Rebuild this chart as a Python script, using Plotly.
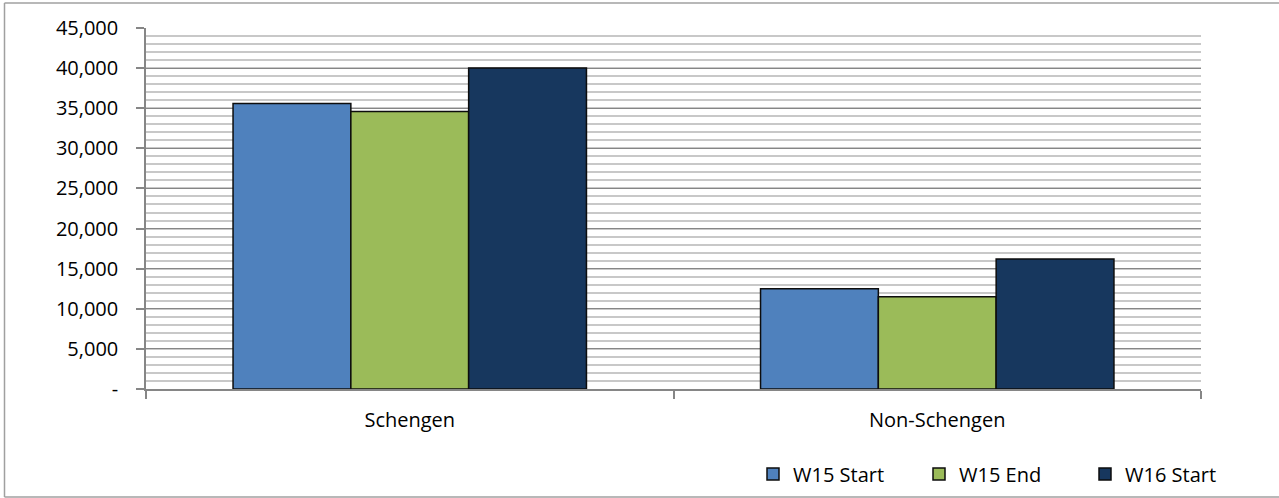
import plotly.graph_objects as go

categories = ["Schengen", "Non-Schengen"]
series_names = ["W15 Start", "W15 End", "W16 Start"]
w15_start = [35600, 12500]
w15_end = [34600, 11500]
w16_start = [40000, 16200]
series_values = [w15_start, w15_end, w16_start]
colors = ["#4F81BD", "#9BBB59", "#17375E"]

y_tick_vals = [0, 5000, 10000, 15000, 20000, 25000, 30000, 35000, 40000, 45000]
y_tick_text = ["-", "5,000", "10,000", "15,000", "20,000", "25,000", "30,000", "35,000", "40,000", "45,000"]

W, H = 1279, 498
L, R, T, B = 146, W - 1201, 28, H - 389
pw, ph = W - L - R, H - T - B

def px_x(x):
    return (x - L) / pw

def px_y(y):
    return (H - B - y) / ph

FONT = "Open Sans"
FS = 20

fig = go.Figure()
for name, vals, c in zip(series_names, series_values, colors):
    fig.add_trace(go.Bar(
        x=categories, y=vals, name=name,
        marker=dict(color=c, line=dict(color="#0d0d0d", width=1.5)),
    ))

frame = dict(color="#A0A0A0", width=1.5)
fig.update_layout(
    template="none",
    width=W, height=H,
    margin=dict(l=L, r=R, t=T, b=B, pad=0, autoexpand=False),
    paper_bgcolor="white", plot_bgcolor="white",
    barmode="group", bargap=0.33, bargroupgap=0,
    font=dict(family=FONT, size=FS, color="#000000"),
    showlegend=True,
    legend=dict(
        orientation="h", x=px_x(753), y=px_y(474), xanchor="left", yanchor="middle",
        font=dict(family=FONT, size=FS, color="#000000"),
        bgcolor="rgba(0,0,0,0)", itemwidth=30, entrywidth=121, entrywidthmode="pixels",
        traceorder="normal",
    ),
    xaxis=dict(
        type="category", showgrid=False, showline=True, linecolor="#868686", linewidth=1.5,
        ticks="outside", tickson="boundaries", ticklen=8, tickcolor="#868686", tickwidth=1.5,
        tickfont=dict(family=FONT, size=FS, color="#000000"), ticklabelstandoff=12,
        automargin=False,
    ),
    yaxis=dict(
        range=[0, 45000], tickvals=y_tick_vals, ticktext=y_tick_text,
        showgrid=True, gridcolor="#868686", gridwidth=1,
        minor=dict(dtick=1000, tick0=0, showgrid=True, gridcolor="#C8C8C8", gridwidth=1.5, ticks=""),
        showline=True, linecolor="#868686", linewidth=1.5,
        ticks="outside", ticklen=8, tickcolor="#868686", tickwidth=1.5,
        tickfont=dict(family=FONT, size=FS, color="#000000"), ticklabelstandoff=14,
        zeroline=False, automargin=False,
    ),
    shapes=[
        dict(type="line", xref="paper", yref="paper", x0=px_x(4.5), x1=px_x(4.5),
             y0=px_y(497), y1=px_y(3), line=frame, layer="below"),
        dict(type="line", xref="paper", yref="paper", x0=px_x(4.5), x1=px_x(1279),
             y0=px_y(3), y1=px_y(3), line=frame, layer="below"),
        dict(type="line", xref="paper", yref="paper", x0=px_x(4.5), x1=px_x(1279),
             y0=px_y(497), y1=px_y(497), line=frame, layer="below"),
    ],
)

fig.write_html(
    "out.html",
    config={"displayModeBar": False},
    post_script="document.body.style.margin='0';document.body.style.overflow='hidden';",
)
